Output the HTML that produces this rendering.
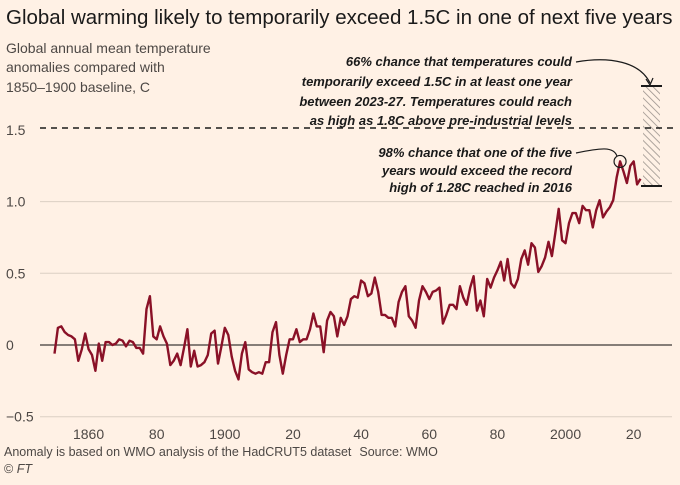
<!DOCTYPE html>
<html><head><meta charset="utf-8">
<style>
html,body{margin:0;padding:0;background:#fff1e5;}
svg{display:block;font-family:"Liberation Sans",sans-serif;}
</style></head>
<body>
<svg id="chart" width="680" height="485" viewBox="0 0 680 485" xmlns="http://www.w3.org/2000/svg">
<rect width="680" height="485" fill="#fff1e5"/>
<defs>
<pattern id="hatch" width="5" height="5" patternUnits="userSpaceOnUse" patternTransform="rotate(-45)">
<line x1="0" y1="0" x2="0" y2="5" stroke="#9a928c" stroke-width="1.6"/>
</pattern>
</defs>
<text x="6" y="24" font-size="20.5" fill="#1a1a1a">Global warming likely to temporarily exceed 1.5C in one of next five years</text>
<g font-size="14" fill="#4d4845">
<text x="6" y="53">Global annual mean temperature</text>
<text x="6" y="72">anomalies compared with</text>
<text x="6" y="92">1850–1900 baseline, C</text>
</g>
<g id="grid"></g>
<g id="yticks" font-size="14" fill="#4d4845"></g>
<g id="xticks" font-size="14" fill="#4d4845" text-anchor="middle"></g>
<rect x="643" y="86" width="17" height="100" fill="url(#hatch)"/>
<line x1="641" y1="86" x2="662" y2="86" stroke="#1a1a1a" stroke-width="2"/>
<line x1="641" y1="186" x2="662" y2="186" stroke="#1a1a1a" stroke-width="2"/>
<line x1="40" y1="128" x2="674" y2="128" stroke="#1a1a1a" stroke-width="1.6" stroke-dasharray="6,5"/>
<path id="series" fill="none" stroke="#8a1127" stroke-width="2.4" stroke-linejoin="round"/>
<circle id="peak" r="6" fill="none" stroke="#1a1a1a" stroke-width="1.2"/>
<g font-size="13" font-style="italic" font-weight="bold" fill="#1a1a1a" text-anchor="end">
<text x="572" y="66">66% chance that temperatures could</text>
<text x="572" y="86">temporarily exceed 1.5C in at least one year</text>
<text x="572" y="106">between 2023-27. Temperatures could reach</text>
<text x="572" y="125">as high as 1.8C above pre-industrial levels</text>
</g>
<path d="M576 62 C610 56 640 62 650 83" fill="none" stroke="#1a1a1a" stroke-width="1.2"/>
<path d="M646 79 L650 85 L653 78" fill="none" stroke="#1a1a1a" stroke-width="1.2"/>
<g font-size="13" font-style="italic" font-weight="bold" fill="#1a1a1a" text-anchor="end">
<text x="572" y="157">98% chance that one of the five</text>
<text x="572" y="175">years would exceed the record</text>
<text x="572" y="192">high of 1.28C reached in 2016</text>
</g>
<path id="recordLeader" fill="none" stroke="#1a1a1a" stroke-width="1.2"/>
<text x="4" y="456" font-size="12.5" fill="#4d4845">Anomaly is based on WMO analysis of the HadCRUT5 dataset<tspan dx="8">Source: WMO</tspan></text>
<text x="4" y="473" font-size="12.5" fill="#4d4845">© <tspan font-style="italic">FT</tspan></text>
</svg>
<script>
const startYear = 1850;
const anomalies = [
-0.06,0.12,0.13,0.09,0.07,0.06,0.04,-0.11,-0.03,0.08,
-0.03,-0.07,-0.18,0.01,-0.11,0.02,0.02,0.00,0.01,0.04,
0.03,-0.01,0.03,0.02,-0.02,-0.02,-0.06,0.25,0.34,0.06,
0.04,0.13,0.06,0.01,-0.14,-0.11,-0.06,-0.14,-0.02,0.11,
-0.15,-0.04,-0.15,-0.14,-0.12,-0.07,0.08,0.10,-0.13,-0.01,
0.12,0.07,-0.08,-0.18,-0.24,-0.06,0.02,-0.17,-0.19,-0.20,
-0.19,-0.20,-0.12,-0.12,0.09,0.16,-0.07,-0.20,-0.07,0.04,
0.04,0.11,0.02,0.04,0.04,0.11,0.22,0.13,0.13,-0.05,
0.17,0.23,0.20,0.06,0.19,0.14,0.20,0.32,0.34,0.33,
0.45,0.43,0.34,0.36,0.47,0.37,0.21,0.21,0.19,0.19,
0.13,0.30,0.37,0.41,0.20,0.17,0.12,0.31,0.41,0.37,
0.32,0.37,0.38,0.40,0.15,0.21,0.28,0.28,0.25,0.41,
0.33,0.28,0.40,0.48,0.24,0.31,0.20,0.46,0.40,0.47,
0.52,0.58,0.45,0.60,0.43,0.40,0.46,0.60,0.66,0.56,
0.71,0.68,0.51,0.55,0.61,0.72,0.62,0.78,0.95,0.73,
0.71,0.85,0.92,0.92,0.85,0.97,0.94,0.94,0.82,0.94,
1.01,0.89,0.93,0.96,1.01,1.17,1.28,1.21,1.13,1.25,
1.28,1.12,1.16];
const yTicks = [-0.5, 0, 0.5, 1.0, 1.5];
const yTickLabels = ["−0.5","0","0.5","1.0","1.5"];
const xTicks = [1860, 1880, 1900, 1920, 1940, 1960, 1980, 2000, 2020];
const xTickLabels = ["1860","80","1900","20","40","60","80","2000","20"];
const recordYear = 2016;

const NS = "http://www.w3.org/2000/svg";
const xs = yr => 54.5 + (yr - 1850) * 3.407;
const ys = v => 345 - v * 143.4;

const grid = document.getElementById('grid');
const yt = document.getElementById('yticks');
yTicks.forEach((t, i) => {
  if (t !== 1.5) {
    const l = document.createElementNS(NS, 'line');
    l.setAttribute('x1', t === 0 ? 40 : 40); l.setAttribute('x2', 672);
    l.setAttribute('y1', ys(t)); l.setAttribute('y2', ys(t));
    l.setAttribute('stroke', t === 0 ? '#5e5955' : '#dccfc4');
    l.setAttribute('stroke-width', t === 0 ? 1.4 : 1);
    
    
    grid.appendChild(l);
  }
  const tx = document.createElementNS(NS, 'text');
  tx.setAttribute('x', 6); tx.setAttribute('y', ys(t) + 5);
  tx.textContent = yTickLabels[i];
  
  
  yt.appendChild(tx);
});
const xt = document.getElementById('xticks');
xTicks.forEach((t, i) => {
  const tx = document.createElementNS(NS, 'text');
  tx.setAttribute('x', xs(t)); tx.setAttribute('y', 439);
  tx.textContent = xTickLabels[i];
  
  
  xt.appendChild(tx);
});
let d = '';
anomalies.forEach((v, i) => {
  d += (i ? 'L' : 'M') + xs(startYear + i).toFixed(1) + ' ' + ys(v).toFixed(1);
});
document.getElementById('series').setAttribute('d', d);
const pv = anomalies[recordYear - startYear];
const px = xs(recordYear), py = ys(pv);
const pk = document.getElementById('peak');
pk.setAttribute('cx', px); pk.setAttribute('cy', py);
document.getElementById('recordLeader').setAttribute('d',
  `M576 153 C600 148 ${px-6} 146 ${px-3} ${py-5}`);
</script>
</body></html>
